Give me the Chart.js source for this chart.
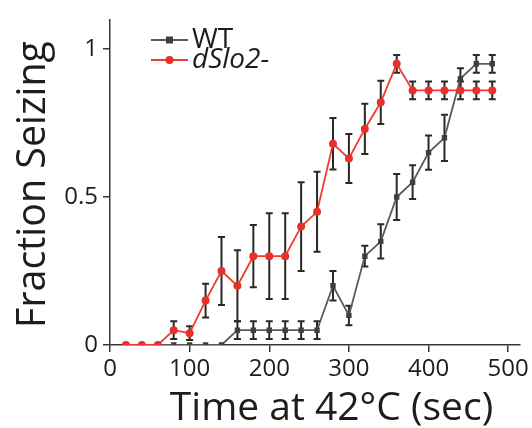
<!DOCTYPE html>
<html>
<head>
<meta charset="utf-8">
<script src="https://cdn.jsdelivr.net/npm/chart.js@4.4.0/dist/chart.umd.min.js"></script>
<style>
  html, body { margin: 0; padding: 0; background: #fff; }
  #wrap { width: 532px; height: 428px; }
</style>
</head>
<body>
<div id="wrap"><canvas id="c" width="532" height="428"></canvas></div>
<script>
// ---- data ----
const times = [20, 40, 60, 80, 100, 120, 140, 160, 180, 200, 220, 240, 260, 280, 300, 320, 340, 360, 380, 400, 420, 440, 460, 480];
const wtValues = [0, 0, 0, 0, 0, 0, 0, 0.05, 0.05, 0.05, 0.05, 0.05, 0.05, 0.2, 0.1, 0.3, 0.35, 0.5, 0.55, 0.65, 0.7, 0.9, 0.95, 0.95];
const wtErrors = [0, 0, 0, 0, 0, 0, 0, 0.03, 0.03, 0.03, 0.03, 0.03, 0.03, 0.05, 0.033, 0.035, 0.058, 0.078, 0.057, 0.058, 0.078, 0.035, 0.03, 0.03];
const dSlo2Values = [0, 0, 0, 0.05, 0.04, 0.15, 0.25, 0.2, 0.3, 0.3, 0.3, 0.4, 0.45, 0.68, 0.63, 0.73, 0.82, 0.95, 0.86, 0.86, 0.86, 0.86, 0.86, 0.86];
const dSlo2Errors = [0, 0, 0, 0.03, 0.023, 0.057, 0.115, 0.12, 0.105, 0.145, 0.145, 0.15, 0.135, 0.087, 0.083, 0.085, 0.073, 0.03, 0.03, 0.03, 0.03, 0.03, 0.03, 0.03];
const seriesNames = ['WT', 'dSlo2-'];
const xTicks = [0, 100, 200, 300, 400, 500];
const yTicks = [0, 0.5, 1];
const xTitle = 'Time at 42°C (sec)';
const yTitle = 'Fraction Seizing';

const AXIS = '#3a3634';
const TEXT = '#1f1c1b';
const FONT = '"Open Sans", "DejaVu Sans", sans-serif';

function pts(vals) { return times.map((t, i) => ({ x: t, y: vals[i] })); }

const errorBars = {
  id: 'errorBars',
  beforeDatasetsDraw(chart) {
    const ctx = chart.ctx;
    const xs = chart.scales.x, ys = chart.scales.y;
    ctx.save();
    ctx.beginPath();
    ctx.rect(chart.chartArea.left, chart.chartArea.top, chart.chartArea.right - chart.chartArea.left, chart.chartArea.bottom - chart.chartArea.top);
    ctx.clip();
    ctx.strokeStyle = '#2b2826';
    ctx.lineWidth = 2;
    const sets = [[wtValues, wtErrors], [dSlo2Values, dSlo2Errors]];
    sets.forEach(([vals, errs]) => {
      times.forEach((t, i) => {
        const e = errs[i];
        if (!e) return;
        const px = xs.getPixelForValue(t);
        const y1 = ys.getPixelForValue(vals[i] + e);
        const y2 = ys.getPixelForValue(vals[i] - e);
        ctx.beginPath();
        ctx.moveTo(px, y1); ctx.lineTo(px, y2);
        ctx.moveTo(px - 3.5, y1); ctx.lineTo(px + 3.5, y1);
        ctx.moveTo(px - 3.5, y2); ctx.lineTo(px + 3.5, y2);
        ctx.stroke();
      });
    });
    ctx.restore();
  }
};

const titlesAndLegend = {
  id: 'titlesAndLegend',
  afterDraw(chart) {
    const ctx = chart.ctx;
    ctx.save();
    // axis titles
    ctx.fillStyle = TEXT;
    ctx.textBaseline = 'alphabetic';
    ctx.textAlign = 'center';
    ctx.font = '39px ' + FONT;
    ctx.fillText(xTitle, 331.5, 420);
    ctx.save();
    ctx.translate(45, 184.5);
    ctx.rotate(-Math.PI / 2);
    ctx.font = '39.4px ' + FONT;
    ctx.fillText(yTitle, 0, 0);
    ctx.restore();
    // legend
    const rows = [
      { ds: chart.data.datasets[0], y: 40, font: '28px ' + FONT },
      { ds: chart.data.datasets[1], y: 60, font: 'italic 28px ' + FONT }
    ];
    rows.forEach(r => {
      ctx.strokeStyle = r.ds.borderColor;
      ctx.lineWidth = 1.8;
      ctx.beginPath(); ctx.moveTo(151, r.y); ctx.lineTo(188, r.y); ctx.stroke();
      ctx.fillStyle = r.ds.pointBackgroundColor;
      if (r.ds.pointStyle === 'rect') {
        ctx.fillRect(169.5 - 3.5, r.y - 3.5, 7, 7);
      } else {
        ctx.beginPath(); ctx.arc(169.5, r.y, 4, 0, Math.PI * 2); ctx.fill();
      }
      ctx.fillStyle = TEXT;
      ctx.font = r.font;
      ctx.textAlign = 'left';
      ctx.fillText(r.ds.label, 192, r.y + 8);
    });
    ctx.restore();
  }
};

new Chart(document.getElementById('c'), {
  type: 'line',
  data: {
    datasets: [
      {
        label: seriesNames[0],
        data: pts(wtValues),
        borderColor: '#5e5955',
        borderWidth: 1.8,
        pointStyle: 'rect',
        pointRadius: 3.8,
        pointBackgroundColor: '#423d3a',
        pointBorderColor: '#423d3a',
        pointBorderWidth: 0,
        tension: 0,
        order: 2
      },
      {
        label: seriesNames[1],
        data: pts(dSlo2Values),
        borderColor: '#ec3d30',
        borderWidth: 1.8,
        pointStyle: 'circle',
        pointRadius: 4,
        pointBackgroundColor: '#e8302a',
        pointBorderColor: '#e8302a',
        pointBorderWidth: 0,
        tension: 0,
        order: 1
      }
    ]
  },
  options: {
    responsive: false,
    animation: false,
    devicePixelRatio: 1,
    layout: { padding: { top: 8, right: 8, left: 0, bottom: 0 } },
    plugins: { legend: { display: false }, tooltip: { enabled: false } },
    scales: {
      x: {
        type: 'linear',
        min: 0,
        max: 515,
        afterBuildTicks(s) { s.ticks = xTicks.map(v => ({ value: v })); },
        afterFit(s) { s.height = 83; },
        border: { display: true, color: AXIS, width: 1.5 },
        grid: { display: true, drawOnChartArea: false, drawTicks: true, tickLength: 7, color: AXIS, lineWidth: 1.5 },
        ticks: { color: TEXT, font: { family: FONT, size: 24 }, padding: 3, maxRotation: 0, autoSkip: false },
        title: { display: false }
      },
      y: {
        type: 'linear',
        min: 0,
        max: 1.1,
        afterBuildTicks(s) { s.ticks = yTicks.map(v => ({ value: v })); },
        afterFit(s) { s.width = 110; },
        border: { display: true, color: AXIS, width: 1.5 },
        grid: { display: true, drawOnChartArea: false, drawTicks: true, tickLength: 7, color: AXIS, lineWidth: 1.5 },
        ticks: { color: TEXT, font: { family: FONT, size: 24 }, padding: 5, callback: v => String(v) },
        title: { display: false }
      }
    }
  },
  plugins: [errorBars, titlesAndLegend]
});
</script>
</body>
</html>
